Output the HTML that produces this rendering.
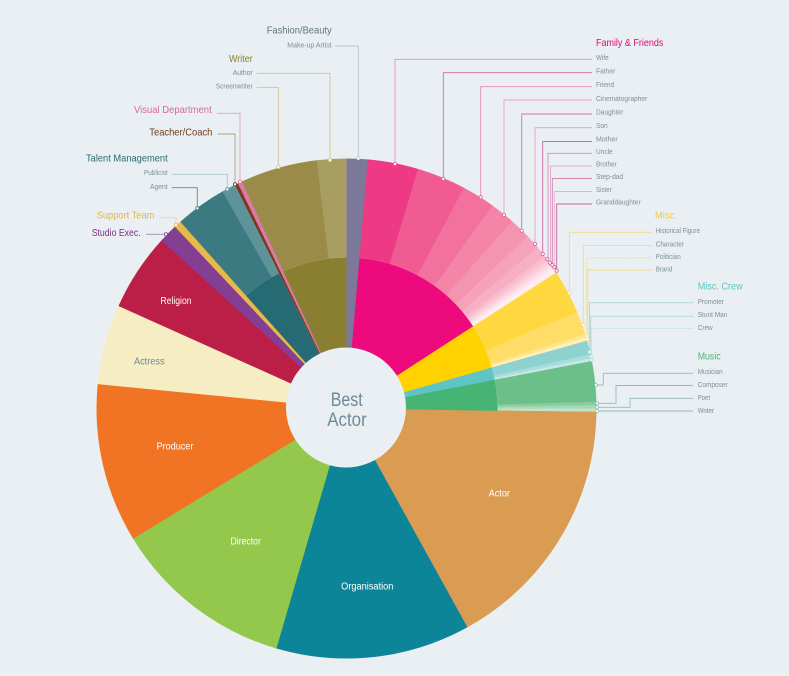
<!DOCTYPE html>
<html><head><meta charset="utf-8"><style>
html,body{margin:0;padding:0;background:#e9eff2;}
svg{display:block;}
text{font-family:"Liberation Sans",sans-serif;}
.t{font-size:10.5px;}
.s{font-size:7px;fill:#7e909a;}
.w{font-size:10px;fill:#ffffff;text-anchor:middle;}
</style></head><body>
<svg width="789" height="676" viewBox="0 0 789 676" xmlns="http://www.w3.org/2000/svg">
<rect width="789" height="676" fill="#e9eff2"/>
<g transform="translate(346.5 408.5) rotate(-90)" fill="none">
 <!-- full-depth slices r 4..250 -->
 <g stroke-width="246">
  <circle r="127" stroke="#7b7899" stroke-dasharray="11.30 3000" stroke-dashoffset="0"/>
  <circle r="127" stroke="#d99c52" stroke-dasharray="134.10 3000" stroke-dashoffset="-201.04"/>
  <circle r="127" stroke="#0d8599" stroke-dasharray="100.63 3000" stroke-dashoffset="-334.70"/>
  <circle r="127" stroke="#94c84c" stroke-dasharray="94.20 3000" stroke-dashoffset="-434.89"/>
  <circle r="127" stroke="#f17424" stroke-dasharray="82.46 3000" stroke-dashoffset="-528.65"/>
  <circle r="127" stroke="#f7edc2" stroke-dasharray="41.67 3000" stroke-dashoffset="-610.66"/>
  <circle r="127" stroke="#bb1e46" stroke-dasharray="40.34 3000" stroke-dashoffset="-651.89"/>
  <circle r="127" stroke="#843e92" stroke-dasharray="10.20 3000" stroke-dashoffset="-691.79"/>
  <circle r="127" stroke="#e6b94a" stroke-dasharray="4.21 3000" stroke-dashoffset="-701.55"/>
  <circle r="127" stroke="#7b3a20" stroke-dasharray="2.22 3000" stroke-dashoffset="-738.78"/>
  <circle r="127" stroke="#d97aa6" stroke-dasharray="2.66 3000" stroke-dashoffset="-740.55"/>
 </g>
 <!-- inner ring r 3..151 -->
 <g stroke-width="148">
  <circle r="77" stroke="#ec0a7c" stroke-dasharray="70.29 3000" stroke-dashoffset="-6.585"/>
  <circle r="77" stroke="#ffd200" stroke-dasharray="23.38 3000" stroke-dashoffset="-76.60"/>
  <circle r="77" stroke="#5ec5c5" stroke-dasharray="6.72 3000" stroke-dashoffset="-99.72"/>
  <circle r="77" stroke="#47b474" stroke-dasharray="15.99 3000" stroke-dashoffset="-106.17"/>
  <circle r="77" stroke="#266b73" stroke-dasharray="20.29 3000" stroke-dashoffset="-427.63"/>
  <circle r="77" stroke="#8a7f30" stroke-dasharray="33.46 3000" stroke-dashoffset="-450.34"/>
 </g>
 <!-- outer ring r 151..250 -->
 <g stroke-width="99">
  <circle r="200.5" stroke="#ee3984" stroke-dasharray="41.64 3000" stroke-dashoffset="-17.15"/>
  <circle r="200.5" stroke="#f05c91" stroke-dasharray="40.59 3000" stroke-dashoffset="-58.09"/>
  <circle r="200.5" stroke="#f2719d" stroke-dasharray="27.65 3000" stroke-dashoffset="-97.98"/>
  <circle r="200.5" stroke="#f484a8" stroke-dasharray="20.65 3000" stroke-dashoffset="-124.93"/>
  <circle r="200.5" stroke="#f594b1" stroke-dasharray="18.20 3000" stroke-dashoffset="-144.87"/>
  <circle r="200.5" stroke="#f6a2bb" stroke-dasharray="12.60 3000" stroke-dashoffset="-162.37"/>
  <circle r="200.5" stroke="#f7afc5" stroke-dasharray="9.80 3000" stroke-dashoffset="-174.27"/>
  <circle r="200.5" stroke="#f9bdcf" stroke-dasharray="4.55 3000" stroke-dashoffset="-183.37"/>
  <circle r="200.5" stroke="#facad8" stroke-dasharray="3.50 3000" stroke-dashoffset="-187.22"/>
  <circle r="200.5" stroke="#fbd6e1" stroke-dasharray="3.15 3000" stroke-dashoffset="-190.02"/>
  <circle r="200.5" stroke="#fde2ea" stroke-dasharray="3.50 3000" stroke-dashoffset="-192.47"/>
  <circle r="200.5" stroke="#feeef3" stroke-dasharray="4.90 3000" stroke-dashoffset="-195.27"/>
  <circle r="200.5" stroke="#ffd73f" stroke-dasharray="36.39 3000" stroke-dashoffset="-199.46"/>
  <circle r="200.5" stroke="#ffdd66" stroke-dasharray="19.60 3000" stroke-dashoffset="-235.16"/>
  <circle r="200.5" stroke="#ffe58c" stroke-dasharray="3.50 3000" stroke-dashoffset="-254.06"/>
  <circle r="200.5" stroke="#fff0b5" stroke-dasharray="3.50 3000" stroke-dashoffset="-256.85"/>
  <circle r="200.5" stroke="#8ed2cf" stroke-dasharray="11.90 3000" stroke-dashoffset="-259.65"/>
  <circle r="200.5" stroke="#a6dcda" stroke-dasharray="3.85 3000" stroke-dashoffset="-270.85"/>
  <circle r="200.5" stroke="#c3e8e6" stroke-dasharray="3.15 3000" stroke-dashoffset="-274.00"/>
  <circle r="200.5" stroke="#6bbf88" stroke-dasharray="33.59 3000" stroke-dashoffset="-276.45"/>
  <circle r="200.5" stroke="#8acb9f" stroke-dasharray="3.50 3000" stroke-dashoffset="-309.35"/>
  <circle r="200.5" stroke="#a5d8b4" stroke-dasharray="3.32 3000" stroke-dashoffset="-312.15"/>
  <circle r="200.5" stroke="#c0e4c9" stroke-dasharray="2.62 3000" stroke-dashoffset="-314.77"/>
  <circle r="200.5" stroke="#3c7a82" stroke-dasharray="42.34 3000" stroke-dashoffset="-1113.50"/>
  <circle r="200.5" stroke="#5f939a" stroke-dasharray="11.20 3000" stroke-dashoffset="-1155.15"/>
  <circle r="200.5" stroke="#9a8c48" stroke-dasharray="63.34 3000" stroke-dashoffset="-1172.64"/>
  <circle r="200.5" stroke="#a89e62" stroke-dasharray="24.50 3000" stroke-dashoffset="-1235.28"/>
 </g>
</g>

<!-- center -->
<circle cx="346" cy="407.5" r="60" fill="#e9eff2"/>
<text x="330.7" y="406" font-size="19.5" fill="#6e8b97" textLength="32" lengthAdjust="spacingAndGlyphs">Best</text>
<text x="327.3" y="426" font-size="19.5" fill="#6e8b97" textLength="39.4" lengthAdjust="spacingAndGlyphs">Actor</text>

<!-- slice labels -->
<text class="w" x="499.3" y="496.3" textLength="21.3" lengthAdjust="spacingAndGlyphs">Actor</text>
<text class="w" x="367.3" y="589.3" textLength="52.3" lengthAdjust="spacingAndGlyphs">Organisation</text>
<text class="w" x="245.7" y="544.3" textLength="30.3" lengthAdjust="spacingAndGlyphs">Director</text>
<text class="w" x="175" y="449.6" textLength="36.7" lengthAdjust="spacingAndGlyphs">Producer</text>
<text class="w" x="149.3" y="364.3" style="fill:#6d8b98" textLength="30.7" lengthAdjust="spacingAndGlyphs">Actress</text>
<text class="w" x="176" y="303.9" textLength="31" lengthAdjust="spacingAndGlyphs">Religion</text>

<!-- connector lines -->
<g fill="none" stroke-width="0.9">
 <polyline points="335,46 358.3,46 358.3,158.3" stroke="#b8c6cf"/>
 <polyline points="256.7,73.3 330,73.3 330,160" stroke="#cfc58e"/>
 <polyline points="256.7,87.3 278.3,87.3 278.3,167" stroke="#cfc58e"/>
 <polyline points="216.7,113.3 240,113.3 240,181.7" stroke="#e2a2c3"/>
 <polyline points="217.7,134 235,134 235,184.3" stroke="#b8a27a"/>
 <polyline points="171.7,174.3 227.3,174.3 227.3,189.3" stroke="#a8c9d0"/>
 <polyline points="171.7,187.7 197.3,187.7 197.3,208.3" stroke="#5b8a92"/>
 <polyline points="159.3,217.7 176,217.7 176,225" stroke="#f0d590"/>
 <polyline points="146,234.3 166,234.3" stroke="#a88aad"/>

 <polyline points="592,59.3 395,59.3 395,164" stroke="#ec8fbd"/>
 <polyline points="592,72.7 443.3,72.7 443.3,179" stroke="#d86aa5"/>
 <polyline points="592,86.7 480.7,86.7 480.7,197.3" stroke="#e98ab9"/>
 <polyline points="592,100 504,100 504,215" stroke="#ec9cc4"/>
 <polyline points="592,114 521.7,114 521.7,230.7" stroke="#d870a8"/>
 <polyline points="592,127.7 535,127.7 535,244" stroke="#ec9cc4"/>
 <polyline points="592,141.5 542.7,141.5 542.7,254" stroke="#d06aa3"/>
 <polyline points="592,153.3 548,153.3 548,259.3" stroke="#e08ab8"/>
 <polyline points="592,166 550.5,166 550.5,262.7" stroke="#e3a8cc"/>
 <polyline points="592,178.5 552.3,178.5 552.3,265" stroke="#d880b0"/>
 <polyline points="592,191.5 554.3,191.5 554.3,267.3" stroke="#e8b0d0"/>
 <polyline points="592,204 556.7,204 556.7,270.7" stroke="#c8609a"/>

 <polyline points="651.7,232.3 569.3,232.3 569.3,292.7" stroke="#f5dc88"/>
 <polyline points="651.7,245.5 583.3,245.5 583.3,325" stroke="#f5dc88"/>
 <polyline points="651.7,257.8 586.7,257.8 586.7,336" stroke="#f5dc88" stroke-dasharray="2 1"/>
 <polyline points="651.7,270 587.7,270 587.7,339" stroke="#f5dc88"/>

 <polyline points="693.3,302.7 589.5,302.7 589.5,352" stroke="#a9d8d6"/>
 <polyline points="693.3,316.3 590.7,316.3 590.7,356.5" stroke="#a9d8d6"/>
 <polyline points="693.3,328.3 591.7,328.3 591.7,360" stroke="#c2e6e4"/>

 <polyline points="693,373.3 603.3,373.3 603.3,385 596,385" stroke="#93bdb3"/>
 <polyline points="693,385.5 616,385.5 616,403.3 597,403.3" stroke="#93bdb3"/>
 <polyline points="693,398.3 630,398.3 630,407.3 597,407.3" stroke="#93bdb3"/>
 <polyline points="693,411 597,411" stroke="#93bdb3"/>
</g>

<!-- dots -->
<g fill="#ffffff" stroke-width="0.8">
 <circle cx="358.3" cy="158.3" r="1.6" stroke="#b8c6cf"/>
 <circle cx="330" cy="160" r="1.6" stroke="#cfc58e"/>
 <circle cx="278.3" cy="167" r="1.6" stroke="#cfc58e"/>
 <circle cx="240" cy="181.7" r="1.6" stroke="#d97aa6"/>
 <circle cx="235" cy="184.3" r="1.6" stroke="#7b3a20"/>
 <circle cx="227.3" cy="189.3" r="1.6" stroke="#5f939a"/>
 <circle cx="197.3" cy="208.3" r="1.6" stroke="#3c7a82"/>
 <circle cx="176" cy="225" r="1.6" stroke="#e6b94a"/>
 <circle cx="166" cy="234.3" r="1.6" stroke="#843e92"/>

 <circle cx="395" cy="164" r="1.6" stroke="#e0609a"/>
 <circle cx="443.3" cy="179" r="1.6" stroke="#e0609a"/>
 <circle cx="480.7" cy="197.3" r="1.6" stroke="#e0609a"/>
 <circle cx="504" cy="215" r="1.6" stroke="#e0609a"/>
 <circle cx="521.7" cy="230.7" r="1.6" stroke="#e0609a"/>
 <circle cx="535" cy="244" r="1.6" stroke="#e0609a"/>
 <circle cx="542.7" cy="254" r="1.6" stroke="#d0609a"/>
 <circle cx="547.3" cy="259.3" r="1.6" stroke="#d0609a"/>
 <circle cx="550" cy="262.7" r="1.6" stroke="#d0609a"/>
 <circle cx="552.3" cy="265" r="1.6" stroke="#d0609a"/>
 <circle cx="554.3" cy="267.3" r="1.6" stroke="#d0609a"/>
 <circle cx="556.7" cy="270.7" r="1.6" stroke="#d0609a"/>

 <circle cx="569.3" cy="292.7" r="1.5" stroke="#f5dc88"/>
 <circle cx="583.3" cy="325" r="1.5" stroke="#f5dc88"/>
 <circle cx="586.7" cy="336" r="1.5" stroke="#f5dc88"/>
 <circle cx="587.7" cy="339" r="1.5" stroke="#f5dc88"/>
 <circle cx="589.5" cy="352" r="1.5" stroke="#a9d8d6"/>
 <circle cx="590.7" cy="356.5" r="1.5" stroke="#a9d8d6"/>
 <circle cx="591.7" cy="360" r="1.5" stroke="#a9d8d6"/>
 <circle cx="596" cy="385" r="1.5" stroke="#93bdb3"/>
 <circle cx="597" cy="403.3" r="1.5" stroke="#93bdb3"/>
 <circle cx="597" cy="407.3" r="1.5" stroke="#93bdb3"/>
 <circle cx="597" cy="411" r="1.5" stroke="#93bdb3"/>
</g>

<!-- left labels -->
<text class="t" x="266.7" y="33.7" fill="#5d7480" textLength="65" lengthAdjust="spacingAndGlyphs">Fashion/Beauty</text>
<text class="s" x="287.3" y="47.5" textLength="44.4" lengthAdjust="spacingAndGlyphs">Make-up Artist</text>
<text class="t" x="229" y="62" fill="#8a7e30" textLength="23.7" lengthAdjust="spacingAndGlyphs">Writer</text>
<text class="s" x="232.7" y="75.2" textLength="20" lengthAdjust="spacingAndGlyphs">Author</text>
<text class="s" x="215.7" y="88.5" textLength="37" lengthAdjust="spacingAndGlyphs">Screenwriter</text>
<text class="t" x="134" y="113" fill="#d46a9f" textLength="77.7" lengthAdjust="spacingAndGlyphs">Visual Department</text>
<text class="t" x="149.3" y="135.4" fill="#6b3a1c" textLength="63" lengthAdjust="spacingAndGlyphs">Teacher/Coach</text>
<text class="t" x="86" y="161.4" fill="#276b73" textLength="81.7" lengthAdjust="spacingAndGlyphs">Talent Management</text>
<text class="s" x="144" y="174.8" textLength="23.7" lengthAdjust="spacingAndGlyphs">Publicist</text>
<text class="s" x="150" y="189.2" textLength="17.7" lengthAdjust="spacingAndGlyphs">Agent</text>
<text class="t" x="96.7" y="218.7" fill="#e2b54a" textLength="57.7" lengthAdjust="spacingAndGlyphs">Support Team</text>
<text class="t" x="91.7" y="236" fill="#7d2f82" textLength="49" lengthAdjust="spacingAndGlyphs">Studio Exec.</text>

<!-- right labels -->
<text class="t" x="596" y="46" fill="#e0077a" textLength="67.3" lengthAdjust="spacingAndGlyphs">Family &amp; Friends</text>
<text class="s" x="596" y="59.8" textLength="12.7" lengthAdjust="spacingAndGlyphs">Wife</text>
<text class="s" x="596" y="73.5" textLength="19.3" lengthAdjust="spacingAndGlyphs">Father</text>
<text class="s" x="596" y="87.2" textLength="18" lengthAdjust="spacingAndGlyphs">Friend</text>
<text class="s" x="596" y="100.8" textLength="51.3" lengthAdjust="spacingAndGlyphs">Cinematographer</text>
<text class="s" x="596" y="114.5" textLength="27.3" lengthAdjust="spacingAndGlyphs">Daughter</text>
<text class="s" x="596" y="128.2" textLength="11.7" lengthAdjust="spacingAndGlyphs">Son</text>
<text class="s" x="596" y="141.5" textLength="21.7" lengthAdjust="spacingAndGlyphs">Mother</text>
<text class="s" x="596" y="153.8" textLength="16.7" lengthAdjust="spacingAndGlyphs">Uncle</text>
<text class="s" x="596" y="166.5" textLength="20.7" lengthAdjust="spacingAndGlyphs">Brother</text>
<text class="s" x="596" y="179.2" textLength="27.3" lengthAdjust="spacingAndGlyphs">Step-dad</text>
<text class="s" x="596" y="191.8" textLength="15.7" lengthAdjust="spacingAndGlyphs">Sister</text>
<text class="s" x="596" y="204.5" textLength="44.7" lengthAdjust="spacingAndGlyphs">Granddaughter</text>

<text class="t" x="655" y="218.7" fill="#f7cc2a" textLength="21.7" lengthAdjust="spacingAndGlyphs">Misc.</text>
<text class="s" x="655.7" y="233.2" textLength="44.3" lengthAdjust="spacingAndGlyphs">Historical Figure</text>
<text class="s" x="655.7" y="246.5" textLength="28.3" lengthAdjust="spacingAndGlyphs">Character</text>
<text class="s" x="655.7" y="259.2" textLength="25" lengthAdjust="spacingAndGlyphs">Politician</text>
<text class="s" x="655.7" y="271.5" textLength="16.7" lengthAdjust="spacingAndGlyphs">Brand</text>

<text class="t" x="697.7" y="289.7" fill="#5ec4c4" textLength="45" lengthAdjust="spacingAndGlyphs">Misc. Crew</text>
<text class="s" x="697.7" y="304.2" textLength="26.3" lengthAdjust="spacingAndGlyphs">Promoter</text>
<text class="s" x="697.7" y="317.2" textLength="29.7" lengthAdjust="spacingAndGlyphs">Stunt Man</text>
<text class="s" x="697.7" y="329.8" textLength="15" lengthAdjust="spacingAndGlyphs">Crew</text>

<text class="t" x="697.7" y="359.7" fill="#47b474" textLength="23" lengthAdjust="spacingAndGlyphs">Music</text>
<text class="s" x="697.7" y="374.2" textLength="25" lengthAdjust="spacingAndGlyphs">Musician</text>
<text class="s" x="697.7" y="387.2" textLength="30" lengthAdjust="spacingAndGlyphs">Composer</text>
<text class="s" x="697.7" y="399.8" textLength="12.3" lengthAdjust="spacingAndGlyphs">Poet</text>
<text class="s" x="697.7" y="413.2" textLength="16.3" lengthAdjust="spacingAndGlyphs">Writer</text>
</svg>
</body></html>
